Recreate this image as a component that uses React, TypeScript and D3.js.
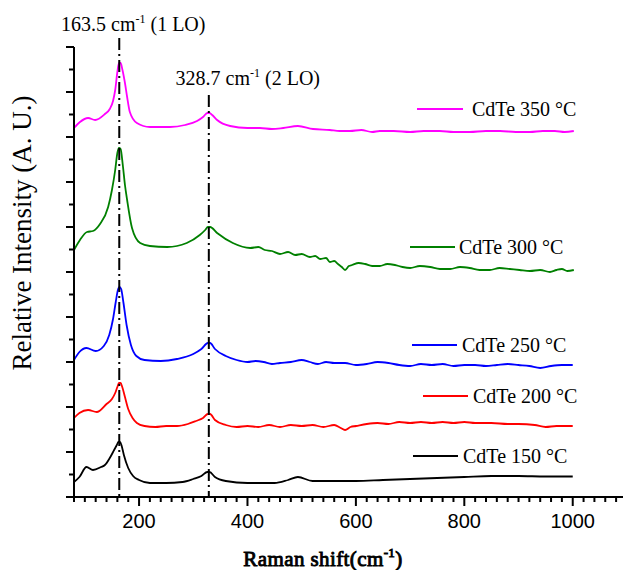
import React from "react";
import * as d3 from "d3";

// Raman shift (cm^-1) and offset intensity (a.u.) for each annealing temperature
const spectrum150: [number, number][] = [
  [80, 15], [90, 20], [103, 30], [115, 27], [130, 30], [137, 32], [146, 39], [154, 47],
  [159, 52], [162, 55], [165, 55], [168, 51], [172, 42], [180, 29], [189, 21], [200, 17], [220, 14],
  [250, 14], [280, 15], [300, 18], [315, 21], [326, 25], [330, 25], [340, 20], [360, 16], [400, 14],
  [450, 14], [475, 17], [493, 20], [520, 16], [560, 16], [600, 16], [650, 17], [700, 18],
  [750, 19], [800, 20], [850, 21], [900, 21], [950, 20.5], [1000, 20.5],
];

const spectrum200: [number, number][] = [
  [80, 79], [90, 84], [106, 87], [122, 85], [140, 93], [150, 98], [156, 104], [160, 110],
  [163, 114], [166, 114], [169, 110], [174, 100], [180, 88], [188, 79], [196, 74], [210, 71], [230, 70],
  [250, 71], [270, 71], [290, 73], [305, 76], [318, 79], [327, 83], [331, 83], [340, 77], [360, 72],
  [380, 70], [400, 71], [420, 70], [440, 72], [460, 70], [480, 72], [500, 71], [520, 72],
  [540, 70], [560, 72], [572, 69], [580, 67], [590, 70], [600, 71], [620, 73], [640, 74],
  [660, 73], [680, 75], [700, 74], [720, 75], [740, 74], [760, 75], [780, 74], [800, 75],
  [820, 74], [850, 74], [880, 73], [900, 73], [930, 72], [950, 70], [970, 71], [985, 71],
  [1000, 71],
];

const spectrum250: [number, number][] = [
  [80, 137], [90, 145], [103, 149], [120, 146], [135, 151], [145, 162], [152, 178],
  [157, 195], [161, 207], [164, 210], [167, 208], [171, 195], [177, 172], [185, 152],
  [195, 141], [210, 137], [240, 136], [270, 138], [300, 143], [315, 148], [327, 154], [331, 154],
  [340, 148], [360, 141], [380, 137], [400, 135], [415, 136], [430, 135], [445, 133],
  [460, 134], [480, 135], [500, 137], [515, 135], [530, 133], [545, 135], [560, 134],
  [580, 134], [600, 132], [620, 133], [640, 135], [660, 134], [680, 132], [700, 131],
  [720, 133], [740, 132], [760, 133], [780, 131], [800, 132], [820, 132], [840, 131],
  [860, 132], [880, 133], [900, 132], [920, 131], [940, 129], [960, 131], [980, 132],
  [1000, 132],
];

const spectrum300: [number, number][] = [
  [80, 247], [91, 257], [104, 265], [115, 266], [128, 273], [143, 290], [150, 307],
  [156, 327], [160, 344], [163, 349], [166, 348], [170, 332], [174, 312], [178, 297],
  [187, 269], [202, 254], [220, 251], [252, 250], [288, 254], [312, 262], [322, 267],
  [327, 270], [331, 270], [344, 264], [373, 254], [405, 249], [420, 250], [432, 247], [445, 246],
  [460, 243], [475, 245], [488, 242], [500, 243], [515, 240], [525, 241], [534, 238],
  [545, 239], [552, 235], [560, 236], [567, 233], [574, 230], [580, 227], [587, 231],
  [593, 232], [605, 234], [617, 233], [630, 231], [644, 231], [658, 233], [672, 232],
  [686, 230], [700, 229], [718, 231], [737, 230], [755, 228], [774, 228], [792, 230],
  [810, 229], [828, 227], [847, 227], [865, 229], [884, 228], [902, 227], [921, 226],
  [940, 227], [958, 225], [970, 227], [980, 228], [990, 226], [1002, 227],
];

const spectrum350: [number, number][] = [
  [80, 369], [91, 375], [106, 379], [119, 377], [137, 383], [146, 388], [152, 396],
  [156, 407], [160, 425], [163, 434], [166, 434], [169, 428], [174, 414], [178, 400], [183, 385],
  [196, 374], [220, 370], [257, 370], [285, 372], [307, 376], [318, 380], [326, 384], [330, 384],
  [335, 382], [344, 377], [368, 371], [400, 369], [423, 369], [445, 368], [466, 369],
  [493, 371], [521, 368], [552, 367], [570, 366], [589, 366], [610, 367], [630, 365],
  [644, 366], [670, 366], [700, 365], [725, 366], [755, 366], [780, 365], [810, 365],
  [840, 366], [866, 366], [895, 365], [921, 365], [945, 366], [967, 366], [985, 365],
  [1002, 366],
];

const seriesLabels = ["CdTe 150 °C", "CdTe 200 °C", "CdTe 250 °C", "CdTe 300 °C", "CdTe 350 °C"];
const seriesColors = ["#000000", "#ff0000", "#0000ff", "#008000", "#ff00ff"];
const seriesData = [spectrum150, spectrum200, spectrum250, spectrum300, spectrum350];

// Phonon mode markers: position (cm^-1), mode name
const modePositions = [163.5, 328.7];
const modeNames = ["1 LO", "2 LO"];

const xMajorTicks = [200, 400, 600, 800, 1000];

const W = 623;
const H = 570;
const margin = { left: 74, top: 47, bottom: 73 };
const xDomain: [number, number] = [80, 1100];
const yDomain: [number, number] = [0, 450];
const pxPerUnit = 0.5421;

// Legend anchors (line start, line end, line y, text x) per series
const legendLayout = [
  { x1: 413, x2: 458, y: 456, tx: 463 },
  { x1: 423, x2: 468, y: 396, tx: 473 },
  { x1: 412, x2: 457, y: 345, tx: 462 },
  { x1: 410, x2: 455, y: 247, tx: 459 },
  { x1: 417, x2: 463, y: 109, tx: 472 },
];
// Top end (y) of each mode marker line and its label baseline / offset
const modeLayout = [
  { top: 38, labelY: 31, dx: 14 },
  { top: 95, labelY: 85, dx: 39 },
];

const serif = "'Liberation Serif', 'Times New Roman', serif";
const sans = "'Liberation Sans', Arial, sans-serif";

export default function App() {
  const x = d3
    .scaleLinear()
    .domain(xDomain)
    .range([margin.left, margin.left + pxPerUnit * (xDomain[1] - xDomain[0])]);
  const y = d3.scaleLinear().domain(yDomain).range([H - margin.bottom, margin.top]);
  const y0 = y(yDomain[0]);

  const line = d3
    .line<[number, number]>()
    .x((d) => x(d[0]))
    .y((d) => y(d[1]))
    .curve(d3.curveMonotoneX);

  const xMinor = d3.range(80, 1101, 20);
  const yTicks = d3.range(0, 451, 22.5);

  return (
    <svg
      width={W}
      height={H}
      style={{ position: "absolute", left: 0, top: 0, background: "#fff" }}
    >
      {/* spectra */}
      {seriesData.map((s, i) => (
        <path
          key={i}
          d={line(s) || ""}
          fill="none"
          stroke={seriesColors[i]}
          strokeWidth={1.8}
          strokeLinejoin="round"
        />
      ))}

      {/* mode marker lines */}
      {modePositions.map((m, i) => (
        <line
          key={i}
          x1={x(m)}
          x2={x(m)}
          y1={modeLayout[i].top}
          y2={y0}
          stroke="#000"
          strokeWidth={2}
          strokeDasharray="12,4,2,4"
        />
      ))}
      {modePositions.map((m, i) => (
        <text
          key={"ml" + i}
          x={x(m) + modeLayout[i].dx}
          y={modeLayout[i].labelY}
          textAnchor="middle"
          fontFamily={serif}
          fontSize={20}
          fill="#000"
        >
          {`${m} cm`}
          <tspan fontSize={12} dy={-8}>-1</tspan>
          <tspan dy={8}>{` (${modeNames[i]})`}</tspan>
        </text>
      ))}

      {/* y axis */}
      <line x1={margin.left} x2={margin.left} y1={margin.top} y2={y0} stroke="#000" strokeWidth={2} />
      {yTicks.map((t, i) => (
        <line
          key={i}
          x1={margin.left}
          x2={margin.left - (i % 2 === 0 ? 8 : 5)}
          y1={y(t)}
          y2={y(t)}
          stroke="#000"
          strokeWidth={2}
        />
      ))}

      {/* x axis */}
      <line x1={margin.left - 1} x2={W} y1={y0} y2={y0} stroke="#000" strokeWidth={2} />
      {xMinor.map((t) => (
        <line
          key={t}
          x1={x(t)}
          x2={x(t)}
          y1={y0}
          y2={y0 + (xMajorTicks.includes(t) ? 9 : 5)}
          stroke="#000"
          strokeWidth={2}
        />
      ))}
      {xMajorTicks.map((t) => (
        <text
          key={t}
          x={x(t)}
          y={y0 + 31}
          textAnchor="middle"
          fontFamily={sans}
          fontSize={20}
          fill="#000"
        >
          {t}
        </text>
      ))}

      {/* axis titles (heavy serif via a thin outline) */}
      <text
        x={323}
        y={566}
        textAnchor="middle"
        fontFamily={serif}
        fontSize={21}
        fill="#000"
        stroke="#000"
        strokeWidth={0.9}
        letterSpacing={0.4}
      >
        Raman shift(cm
        <tspan fontSize={13} dy={-9}>-1</tspan>
        <tspan dy={9}>)</tspan>
      </text>
      <text
        transform={`translate(31, 233) rotate(-90)`}
        textAnchor="middle"
        fontFamily={serif}
        fontSize={27}
        fill="#000"
      >
        Relative Intensity (A. U.)
      </text>

      {/* legend */}
      {seriesLabels.map((lab, i) => (
        <g key={lab}>
          <line
            x1={legendLayout[i].x1}
            x2={legendLayout[i].x2}
            y1={legendLayout[i].y}
            y2={legendLayout[i].y}
            stroke={seriesColors[i]}
            strokeWidth={2}
          />
          <text
            x={legendLayout[i].tx}
            y={legendLayout[i].y + 7}
            fontFamily={serif}
            fontSize={20}
            fill="#000"
          >
            {lab}
          </text>
        </g>
      ))}
    </svg>
  );
}
